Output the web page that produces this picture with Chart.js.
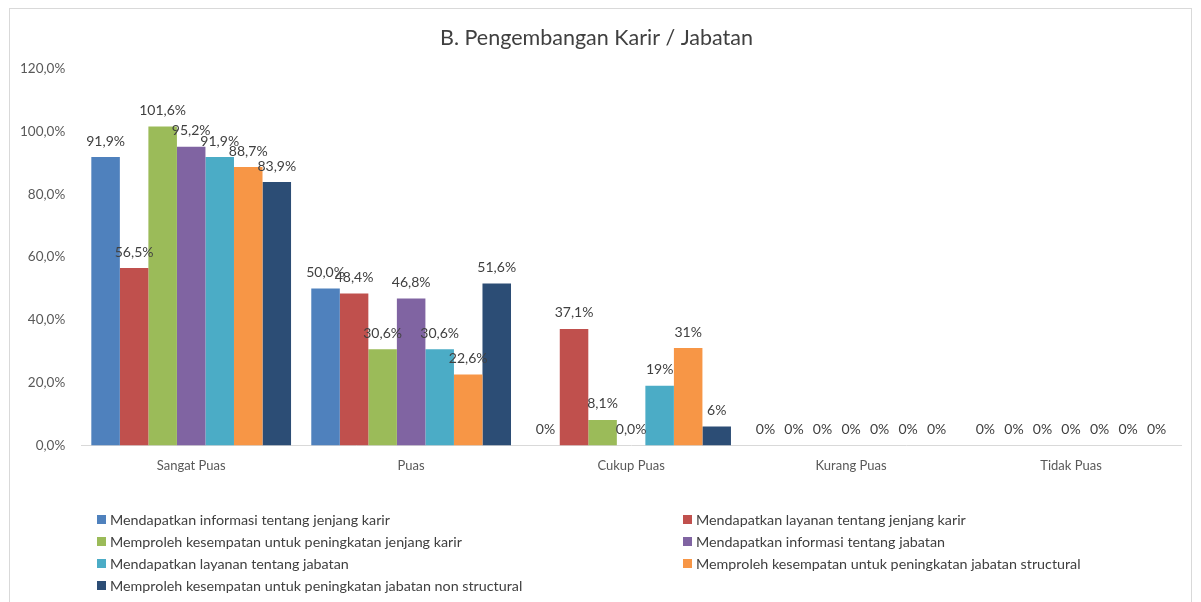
<!DOCTYPE html>
<html>
<head>
<meta charset="utf-8">
<script src="https://cdn.jsdelivr.net/npm/chart.js@4.4.1/dist/chart.umd.min.js"></script>
<style>
    body { margin: 0; background: white; font-family: Lato, sans-serif; }
    #wrap { position: relative; width: 1201px; height: 602px; overflow: hidden; }
    #frame { position: absolute; left: 9px; top: 8px; width: 1183px; height: 620px; border: 1px solid #d9d9d9; box-sizing: border-box; }
    #legend { position: absolute; left: 97px; top: 511px; display: grid; grid-template-columns: 586px 500px; row-gap: 5px; font-size: 14.3px; color: #404040; }
    #legend div { display: flex; align-items: center; height: 17px; white-space: nowrap; }
    #legend span.box { display: inline-block; width: 9px; height: 9px; margin-right: 4px; }
</style>
</head>
<body>
<div id="wrap">
    <div id="frame"></div>
    <canvas id="chart" width="1201" height="602"></canvas>
    <div id="legend"></div>
</div>
<script>
const categories = ['Sangat Puas', 'Puas', 'Cukup Puas', 'Kurang Puas', 'Tidak Puas'];

const seriesNames = [
    'Mendapatkan informasi tentang jenjang karir',
    'Mendapatkan layanan tentang jenjang karir',
    'Memproleh kesempatan untuk peningkatan jenjang karir',
    'Mendapatkan informasi tentang jabatan',
    'Mendapatkan layanan tentang jabatan',
    'Memproleh kesempatan untuk peningkatan jabatan structural',
    'Memproleh kesempatan untuk peningkatan jabatan non structural'
];

const seriesColors = ['#4f81bd', '#c0504d', '#9bbb59', '#8064a2', '#4bacc6', '#f79646', '#2c4d75'];

// values per series, one per category
const infoKarir      = [91.9, 50.0, 0,    0, 0];
const layananKarir   = [56.5, 48.4, 37.1, 0, 0];
const peluangKarir   = [101.6, 30.6, 8.1, 0, 0];
const infoJabatan    = [95.2, 46.8, 0,    0, 0];
const layananJabatan = [91.9, 30.6, 19,   0, 0];
const strukturalJab  = [88.7, 22.6, 31,   0, 0];
const nonStruktural  = [83.9, 51.6, 6,    0, 0];

// data labels as printed on the chart
const infoKarirLbl      = ['91,9%', '50,0%', '0%', '0%', '0%'];
const layananKarirLbl   = ['56,5%', '48,4%', '37,1%', '0%', '0%'];
const peluangKarirLbl   = ['101,6%', '30,6%', '8,1%', '0%', '0%'];
const infoJabatanLbl    = ['95,2%', '46,8%', '0,0%', '0%', '0%'];
const layananJabatanLbl = ['91,9%', '30,6%', '19%', '0%', '0%'];
const strukturalJabLbl  = ['88,7%', '22,6%', '31%', '0%', '0%'];
const nonStrukturalLbl  = ['83,9%', '51,6%', '6%', '0%', '0%'];

const seriesValues = [infoKarir, layananKarir, peluangKarir, infoJabatan, layananJabatan, strukturalJab, nonStruktural];
const seriesLabels = [infoKarirLbl, layananKarirLbl, peluangKarirLbl, infoJabatanLbl, layananJabatanLbl, strukturalJabLbl, nonStrukturalLbl];

const yTicks = [0, 20, 40, 60, 80, 100, 120];

const valueLabels = {
    id: 'valueLabels',
    afterDatasetsDraw(chart) {
        const ctx = chart.ctx;
        ctx.save();
        ctx.font = '14px Lato, sans-serif';
        ctx.fillStyle = '#404040';
        ctx.textAlign = 'center';
        ctx.textBaseline = 'bottom';
        chart.data.datasets.forEach((ds, i) => {
            chart.getDatasetMeta(i).data.forEach((bar, j) => {
                ctx.fillText(seriesLabels[i][j], bar.x, bar.y - 9);
            });
        });
        ctx.restore();
    }
};

const chart = new Chart(document.getElementById('chart'), {
    type: 'bar',
    data: {
        labels: categories,
        datasets: seriesNames.map((name, i) => ({
            label: name,
            data: seriesValues[i],
            backgroundColor: seriesColors[i],
            barPercentage: 1,
            categoryPercentage: 0.908
        }))
    },
    options: {
        responsive: false,
        animation: false,
        layout: { padding: { top: 0, left: 12, right: 20, bottom: 123 } },
        plugins: {
            legend: { display: false },
            tooltip: { enabled: false },
            title: {
                display: true,
                text: 'B. Pengembangan Karir / Jabatan',
                color: '#404040',
                font: { family: 'Lato, sans-serif', size: 21.5, weight: 'normal' },
                padding: { top: 25, bottom: 18 }
            }
        },
        scales: {
            x: {
                grid: { display: false },
                border: { color: '#d9d9d9', width: 1 },
                ticks: { color: '#595959', font: { family: 'Lato, sans-serif', size: 13 }, padding: 5 }
            },
            y: {
                min: 0,
                max: 120,
                afterBuildTicks: axis => { axis.ticks = yTicks.map(v => ({ value: v })); },
                grid: { display: false },
                border: { display: false },
                ticks: {
                    color: '#595959',
                    font: { family: 'Lato, sans-serif', size: 13.5 },
                    padding: 8,
                    callback: v => v.toFixed(1).replace('.', ',') + '%'
                }
            }
        }
    },
    plugins: [valueLabels]
});

// two-column legend built from the chart's own datasets
const legend = document.getElementById('legend');
chart.data.datasets.forEach(ds => {
    const item = document.createElement('div');
    item.innerHTML = `<span class="box" style="background:${ds.backgroundColor}"></span>${ds.label}`;
    legend.appendChild(item);
});
</script>
</body>
</html>
